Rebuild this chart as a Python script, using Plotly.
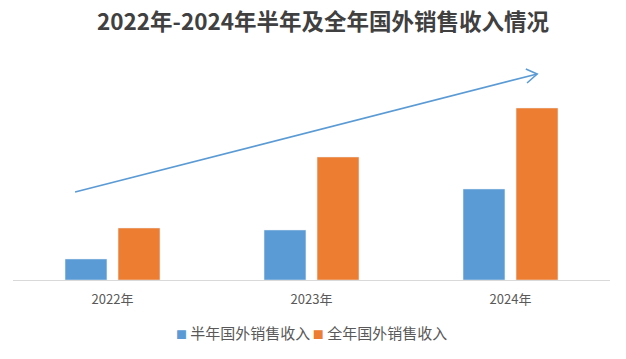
import plotly.graph_objects as go

years = ["2022年", "2023年", "2024年"]
half_year = [21, 50, 91]
full_year = [52, 123, 172]
series_names = ["半年国外销售收入", "全年国外销售收入"]
title_text = "2022年-2024年半年及全年国外销售收入情况"

BLUE = "#5B9BD5"
ORANGE = "#ED7D31"
FONT = "Noto Sans CJK SC"

fig = go.Figure()
fig.add_trace(go.Bar(x=years, y=half_year, name=series_names[0], marker_color=BLUE, showlegend=False))
fig.add_trace(go.Bar(x=years, y=full_year, name=series_names[1], marker_color=ORANGE, showlegend=False))

# trend arrow (paper coords)
x0, y0, x1, y1 = 0.104, 0.44, 0.878, 1.03
fig.add_shape(type="line", xref="paper", yref="paper", x0=x0, y0=y0, x1=x1, y1=y1,
              line=dict(color=BLUE, width=1.6))
fig.add_shape(type="path", xref="paper", yref="paper",
              path=f"M {x1-0.019},{y1+0.025} L {x1},{y1} L {x1-0.017},{y1-0.045}",
              line=dict(color=BLUE, width=1.6))

# custom legend
legend_text = (
    f"<span style='color:{BLUE};font-size:11px'>■</span> {series_names[0]}"
    f"<span style='color:{ORANGE};font-size:11px'> ■</span> {series_names[1]}"
)
fig.add_annotation(text=legend_text, xref="paper", yref="paper", x=(311 - 13) / 597, y=(280 - 332) / 200,
                   xanchor="center", yanchor="middle", showarrow=False,
                   font=dict(family=FONT, size=15, color="#595959"))

fig.update_layout(
    width=626, height=359,
    margin=dict(l=13, r=16, t=80, b=79),
    paper_bgcolor="white", plot_bgcolor="white",
    barmode="group", bargap=0.467, bargroupgap=0.21,
    title=dict(text=f"<b>{title_text}</b>", x=0.516, xanchor="center", y=1 - 22 / 359, yanchor="middle",
               font=dict(family=FONT, size=22.5, color="#404040")),
    font=dict(family=FONT, color="#595959"),
    xaxis=dict(showline=True, linecolor="#D9D9D9", linewidth=1, ticks="",
               tickfont=dict(size=13, color="#595959"), showgrid=False, ticklabelstandoff=7),
    yaxis=dict(range=[0, 200], visible=False, showgrid=False, zeroline=False),
    showlegend=False,
)

fig.write_html("out.html", config={"displayModeBar": False},
               post_script="document.body.style.margin='0';")
